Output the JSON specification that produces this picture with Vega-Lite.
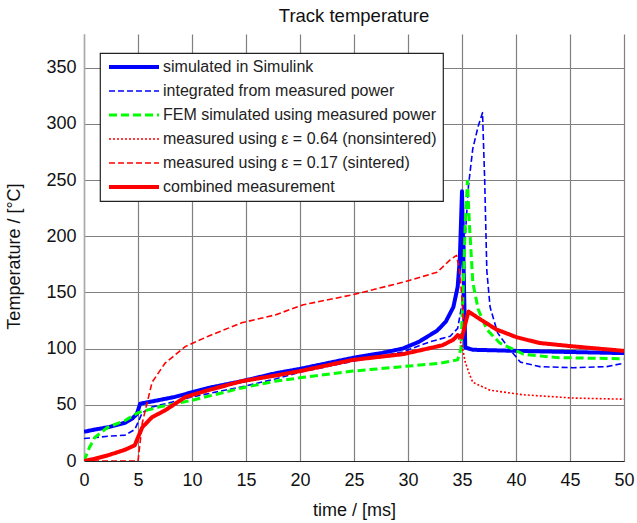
{
  "$schema": "https://vega.github.io/schema/vega-lite/v6.json",
  "autosize": {"type": "none"},
  "width": 540,
  "height": 427,
  "padding": {"left": 84, "top": 34, "right": 13, "bottom": 62},
  "background": "white",
  "config": {
    "view": {"stroke": null},
    "font": "Liberation Sans",
    "title": {"font": "Liberation Sans", "fontSize": 18.5, "fontWeight": "normal", "color": "#111", "baseline": "alphabetic", "offset": 9, "anchor": "middle"},
    "legend": {
      "orient": "none", "legendX": 16, "legendY": 19, "title": null,
      "symbolType": "M-5,0L5,0", "symbolSize": 100,
      "labelFont": "Liberation Sans", "labelFontSize": 16, "labelColor": "#222", "labelLimit": 400,
      "fillColor": "white", "strokeColor": "#222", "strokeWidth": 1.2, "padding": 6,
      "rowPadding": 8, "symbolOffset": 20, "labelOffset": 21
    }
  },
  "title": "Track temperature",
  "data": {"values": [
    {"series": "simulated in Simulink", "t": 0, "T": 26},
    {"series": "simulated in Simulink", "t": 1, "T": 28},
    {"series": "simulated in Simulink", "t": 2.2, "T": 30},
    {"series": "simulated in Simulink", "t": 3.8, "T": 34},
    {"series": "simulated in Simulink", "t": 4.5, "T": 38},
    {"series": "simulated in Simulink", "t": 4.9, "T": 42},
    {"series": "simulated in Simulink", "t": 5.2, "T": 51},
    {"series": "simulated in Simulink", "t": 6.3, "T": 53},
    {"series": "simulated in Simulink", "t": 8.4, "T": 57},
    {"series": "simulated in Simulink", "t": 11.5, "T": 65},
    {"series": "simulated in Simulink", "t": 14.6, "T": 71},
    {"series": "simulated in Simulink", "t": 17.7, "T": 78},
    {"series": "simulated in Simulink", "t": 20, "T": 82},
    {"series": "simulated in Simulink", "t": 22.5, "T": 87},
    {"series": "simulated in Simulink", "t": 25, "T": 92},
    {"series": "simulated in Simulink", "t": 27.5, "T": 96},
    {"series": "simulated in Simulink", "t": 29.5, "T": 100},
    {"series": "simulated in Simulink", "t": 31, "T": 106},
    {"series": "simulated in Simulink", "t": 32.7, "T": 116},
    {"series": "simulated in Simulink", "t": 33.5, "T": 124},
    {"series": "simulated in Simulink", "t": 34.2, "T": 137},
    {"series": "simulated in Simulink", "t": 34.6, "T": 155},
    {"series": "simulated in Simulink", "t": 34.8, "T": 180},
    {"series": "simulated in Simulink", "t": 35.0, "T": 240},
    {"series": "simulated in Simulink", "t": 35.1, "T": 195},
    {"series": "simulated in Simulink", "t": 35.3, "T": 101},
    {"series": "simulated in Simulink", "t": 36, "T": 99},
    {"series": "simulated in Simulink", "t": 40, "T": 98},
    {"series": "simulated in Simulink", "t": 45, "T": 97},
    {"series": "simulated in Simulink", "t": 50, "T": 96},

    {"series": "integrated from measured power", "t": 0, "T": 20},
    {"series": "integrated from measured power", "t": 2.2, "T": 22},
    {"series": "integrated from measured power", "t": 3.8, "T": 23},
    {"series": "integrated from measured power", "t": 4.7, "T": 28},
    {"series": "integrated from measured power", "t": 5.4, "T": 43},
    {"series": "integrated from measured power", "t": 6.3, "T": 48},
    {"series": "integrated from measured power", "t": 10, "T": 57},
    {"series": "integrated from measured power", "t": 14.6, "T": 66},
    {"series": "integrated from measured power", "t": 17.7, "T": 73},
    {"series": "integrated from measured power", "t": 20, "T": 79},
    {"series": "integrated from measured power", "t": 25, "T": 89},
    {"series": "integrated from measured power", "t": 29.5, "T": 97},
    {"series": "integrated from measured power", "t": 32, "T": 106},
    {"series": "integrated from measured power", "t": 33.9, "T": 111},
    {"series": "integrated from measured power", "t": 34.6, "T": 118},
    {"series": "integrated from measured power", "t": 35, "T": 140},
    {"series": "integrated from measured power", "t": 35.3, "T": 200},
    {"series": "integrated from measured power", "t": 35.6, "T": 245},
    {"series": "integrated from measured power", "t": 36, "T": 278},
    {"series": "integrated from measured power", "t": 36.5, "T": 298},
    {"series": "integrated from measured power", "t": 36.9, "T": 310},
    {"series": "integrated from measured power", "t": 37.1, "T": 250},
    {"series": "integrated from measured power", "t": 37.3, "T": 169},
    {"series": "integrated from measured power", "t": 37.6, "T": 137},
    {"series": "integrated from measured power", "t": 38.3, "T": 114},
    {"series": "integrated from measured power", "t": 39.2, "T": 102},
    {"series": "integrated from measured power", "t": 40.4, "T": 88},
    {"series": "integrated from measured power", "t": 42.2, "T": 84},
    {"series": "integrated from measured power", "t": 45.3, "T": 83},
    {"series": "integrated from measured power", "t": 48.4, "T": 84},
    {"series": "integrated from measured power", "t": 50, "T": 87},

    {"series": "FEM simulated using measured power", "t": 0, "T": 0},
    {"series": "FEM simulated using measured power", "t": 0.5, "T": 12},
    {"series": "FEM simulated using measured power", "t": 1, "T": 21},
    {"series": "FEM simulated using measured power", "t": 2.2, "T": 30},
    {"series": "FEM simulated using measured power", "t": 3.8, "T": 36},
    {"series": "FEM simulated using measured power", "t": 5, "T": 43},
    {"series": "FEM simulated using measured power", "t": 6.9, "T": 48},
    {"series": "FEM simulated using measured power", "t": 10, "T": 54},
    {"series": "FEM simulated using measured power", "t": 14.6, "T": 65},
    {"series": "FEM simulated using measured power", "t": 17.7, "T": 71},
    {"series": "FEM simulated using measured power", "t": 20, "T": 74},
    {"series": "FEM simulated using measured power", "t": 24.9, "T": 80},
    {"series": "FEM simulated using measured power", "t": 29.5, "T": 84},
    {"series": "FEM simulated using measured power", "t": 33, "T": 87},
    {"series": "FEM simulated using measured power", "t": 34.6, "T": 90},
    {"series": "FEM simulated using measured power", "t": 34.9, "T": 100},
    {"series": "FEM simulated using measured power", "t": 35.1, "T": 150},
    {"series": "FEM simulated using measured power", "t": 35.3, "T": 210},
    {"series": "FEM simulated using measured power", "t": 35.5, "T": 249},
    {"series": "FEM simulated using measured power", "t": 35.7, "T": 209},
    {"series": "FEM simulated using measured power", "t": 36, "T": 159},
    {"series": "FEM simulated using measured power", "t": 36.5, "T": 135},
    {"series": "FEM simulated using measured power", "t": 37.3, "T": 117},
    {"series": "FEM simulated using measured power", "t": 38.5, "T": 105},
    {"series": "FEM simulated using measured power", "t": 40.7, "T": 95},
    {"series": "FEM simulated using measured power", "t": 43.8, "T": 92},
    {"series": "FEM simulated using measured power", "t": 50, "T": 91},

    {"series": "measured using ε = 0.64 (nonsintered)", "t": 0, "T": 0},
    {"series": "measured using ε = 0.64 (nonsintered)", "t": 1, "T": 2},
    {"series": "measured using ε = 0.64 (nonsintered)", "t": 2.2, "T": 5},
    {"series": "measured using ε = 0.64 (nonsintered)", "t": 3.8, "T": 10},
    {"series": "measured using ε = 0.64 (nonsintered)", "t": 4.7, "T": 14},
    {"series": "measured using ε = 0.64 (nonsintered)", "t": 5, "T": 21},
    {"series": "measured using ε = 0.64 (nonsintered)", "t": 5.4, "T": 30},
    {"series": "measured using ε = 0.64 (nonsintered)", "t": 6.3, "T": 39},
    {"series": "measured using ε = 0.64 (nonsintered)", "t": 7.5, "T": 45},
    {"series": "measured using ε = 0.64 (nonsintered)", "t": 9.4, "T": 57},
    {"series": "measured using ε = 0.64 (nonsintered)", "t": 11.5, "T": 63},
    {"series": "measured using ε = 0.64 (nonsintered)", "t": 14.6, "T": 71},
    {"series": "measured using ε = 0.64 (nonsintered)", "t": 17.7, "T": 76},
    {"series": "measured using ε = 0.64 (nonsintered)", "t": 20, "T": 80},
    {"series": "measured using ε = 0.64 (nonsintered)", "t": 24.9, "T": 90},
    {"series": "measured using ε = 0.64 (nonsintered)", "t": 29.5, "T": 95},
    {"series": "measured using ε = 0.64 (nonsintered)", "t": 33.2, "T": 103},
    {"series": "measured using ε = 0.64 (nonsintered)", "t": 34.2, "T": 108},
    {"series": "measured using ε = 0.64 (nonsintered)", "t": 34.6, "T": 111},
    {"series": "measured using ε = 0.64 (nonsintered)", "t": 35, "T": 103},
    {"series": "measured using ε = 0.64 (nonsintered)", "t": 35.3, "T": 88},
    {"series": "measured using ε = 0.64 (nonsintered)", "t": 35.7, "T": 77},
    {"series": "measured using ε = 0.64 (nonsintered)", "t": 36, "T": 70},
    {"series": "measured using ε = 0.64 (nonsintered)", "t": 37.6, "T": 63},
    {"series": "measured using ε = 0.64 (nonsintered)", "t": 40.6, "T": 59},
    {"series": "measured using ε = 0.64 (nonsintered)", "t": 45.3, "T": 56},
    {"series": "measured using ε = 0.64 (nonsintered)", "t": 50, "T": 55},

    {"series": "measured using ε = 0.17 (sintered)", "t": 0, "T": 0},
    {"series": "measured using ε = 0.17 (sintered)", "t": 5, "T": 0},
    {"series": "measured using ε = 0.17 (sintered)", "t": 5.4, "T": 34},
    {"series": "measured using ε = 0.17 (sintered)", "t": 6.3, "T": 70},
    {"series": "measured using ε = 0.17 (sintered)", "t": 7.5, "T": 87},
    {"series": "measured using ε = 0.17 (sintered)", "t": 9.4, "T": 102},
    {"series": "measured using ε = 0.17 (sintered)", "t": 11.5, "T": 111},
    {"series": "measured using ε = 0.17 (sintered)", "t": 14.6, "T": 123},
    {"series": "measured using ε = 0.17 (sintered)", "t": 17.7, "T": 130},
    {"series": "measured using ε = 0.17 (sintered)", "t": 20.3, "T": 139},
    {"series": "measured using ε = 0.17 (sintered)", "t": 24.9, "T": 148},
    {"series": "measured using ε = 0.17 (sintered)", "t": 29.5, "T": 159},
    {"series": "measured using ε = 0.17 (sintered)", "t": 32.7, "T": 168},
    {"series": "measured using ε = 0.17 (sintered)", "t": 33.9, "T": 179},
    {"series": "measured using ε = 0.17 (sintered)", "t": 34.5, "T": 183},
    {"series": "measured using ε = 0.17 (sintered)", "t": 34.8, "T": 168},
    {"series": "measured using ε = 0.17 (sintered)", "t": 35, "T": 144},
    {"series": "measured using ε = 0.17 (sintered)", "t": 35.2, "T": 115},
    {"series": "measured using ε = 0.17 (sintered)", "t": 35.6, "T": 133},
    {"series": "measured using ε = 0.17 (sintered)", "t": 36.7, "T": 126},
    {"series": "measured using ε = 0.17 (sintered)", "t": 38.2, "T": 117},
    {"series": "measured using ε = 0.17 (sintered)", "t": 40.1, "T": 110},
    {"series": "measured using ε = 0.17 (sintered)", "t": 42.2, "T": 105},
    {"series": "measured using ε = 0.17 (sintered)", "t": 45.3, "T": 102},
    {"series": "measured using ε = 0.17 (sintered)", "t": 50, "T": 98},

    {"series": "combined measurement", "t": 0, "T": 0},
    {"series": "combined measurement", "t": 1, "T": 2},
    {"series": "combined measurement", "t": 2.2, "T": 5},
    {"series": "combined measurement", "t": 3.8, "T": 10},
    {"series": "combined measurement", "t": 4.7, "T": 14},
    {"series": "combined measurement", "t": 5, "T": 21},
    {"series": "combined measurement", "t": 5.4, "T": 30},
    {"series": "combined measurement", "t": 6.3, "T": 39},
    {"series": "combined measurement", "t": 7.5, "T": 45},
    {"series": "combined measurement", "t": 9.4, "T": 57},
    {"series": "combined measurement", "t": 11.5, "T": 63},
    {"series": "combined measurement", "t": 14.6, "T": 71},
    {"series": "combined measurement", "t": 17.7, "T": 76},
    {"series": "combined measurement", "t": 20, "T": 80},
    {"series": "combined measurement", "t": 24.9, "T": 90},
    {"series": "combined measurement", "t": 29.5, "T": 95},
    {"series": "combined measurement", "t": 33.2, "T": 103},
    {"series": "combined measurement", "t": 34.2, "T": 108},
    {"series": "combined measurement", "t": 34.6, "T": 112},
    {"series": "combined measurement", "t": 35, "T": 110},
    {"series": "combined measurement", "t": 35.3, "T": 122},
    {"series": "combined measurement", "t": 35.6, "T": 133},
    {"series": "combined measurement", "t": 36.7, "T": 126},
    {"series": "combined measurement", "t": 38.2, "T": 117},
    {"series": "combined measurement", "t": 40.1, "T": 110},
    {"series": "combined measurement", "t": 42.2, "T": 105},
    {"series": "combined measurement", "t": 45.3, "T": 102},
    {"series": "combined measurement", "t": 50, "T": 98}
  ]},
  "mark": {"type": "line", "strokeJoin": "round", "clip": true},
  "encoding": {
    "x": {
      "field": "t", "type": "quantitative",
      "scale": {"domain": [0, 50], "nice": false, "zero": false},
      "axis": {
        "title": "time / [ms]", "values": [0, 5, 10, 15, 20, 25, 30, 35, 40, 45, 50],
        "titleFont": "Liberation Sans", "titleFontSize": 18, "titleFontWeight": "normal", "titleColor": "#111", "titlePadding": 12,
        "labelFont": "Liberation Sans", "labelFontSize": 18, "labelColor": "#111", "labelPadding": 10, "labelFlush": false,
        "ticks": false, "domainColor": "#222", "domainWidth": 1.2,
        "grid": true, "gridColor": "#808080", "gridWidth": 1.2
      }
    },
    "y": {
      "field": "T", "type": "quantitative",
      "scale": {"domain": [0, 380], "nice": false},
      "axis": {
        "title": "Temperature / [°C]", "values": [0, 50, 100, 150, 200, 250, 300, 350],
        "titleFont": "Liberation Sans", "titleFontSize": 18, "titleFontWeight": "normal", "titleColor": "#111", "titlePadding": 22, "titleY": 222,
        "labelFont": "Liberation Sans", "labelFontSize": 18, "labelColor": "#111", "labelPadding": 8, "labelFlush": false,
        "ticks": false, "domainColor": "#aaaaaa", "domainWidth": 1.5,
        "grid": true, "gridColor": "#808080", "gridWidth": 1.2
      }
    },
    "color": {
      "field": "series", "type": "nominal",
      "scale": {
        "domain": ["simulated in Simulink", "integrated from measured power", "FEM simulated using measured power", "measured using ε = 0.64 (nonsintered)", "measured using ε = 0.17 (sintered)", "combined measurement"],
        "range": ["#0000ff", "#0000ff", "#00ff00", "#ff0000", "#ff0000", "#ff0000"]
      }
    },
    "strokeDash": {
      "field": "series", "type": "nominal",
      "scale": {
        "domain": ["simulated in Simulink", "integrated from measured power", "FEM simulated using measured power", "measured using ε = 0.64 (nonsintered)", "measured using ε = 0.17 (sintered)", "combined measurement"],
        "range": [[1, 0], [6, 3], [8, 4], [2, 2], [6, 3], [1, 0]]
      }
    },
    "strokeWidth": {
      "field": "series", "type": "nominal",
      "scale": {
        "type": "ordinal",
        "domain": ["simulated in Simulink", "integrated from measured power", "FEM simulated using measured power", "measured using ε = 0.64 (nonsintered)", "measured using ε = 0.17 (sintered)", "combined measurement"],
        "range": [4, 1.6, 3, 1.6, 1.6, 4]
      }
    }
  }
}
